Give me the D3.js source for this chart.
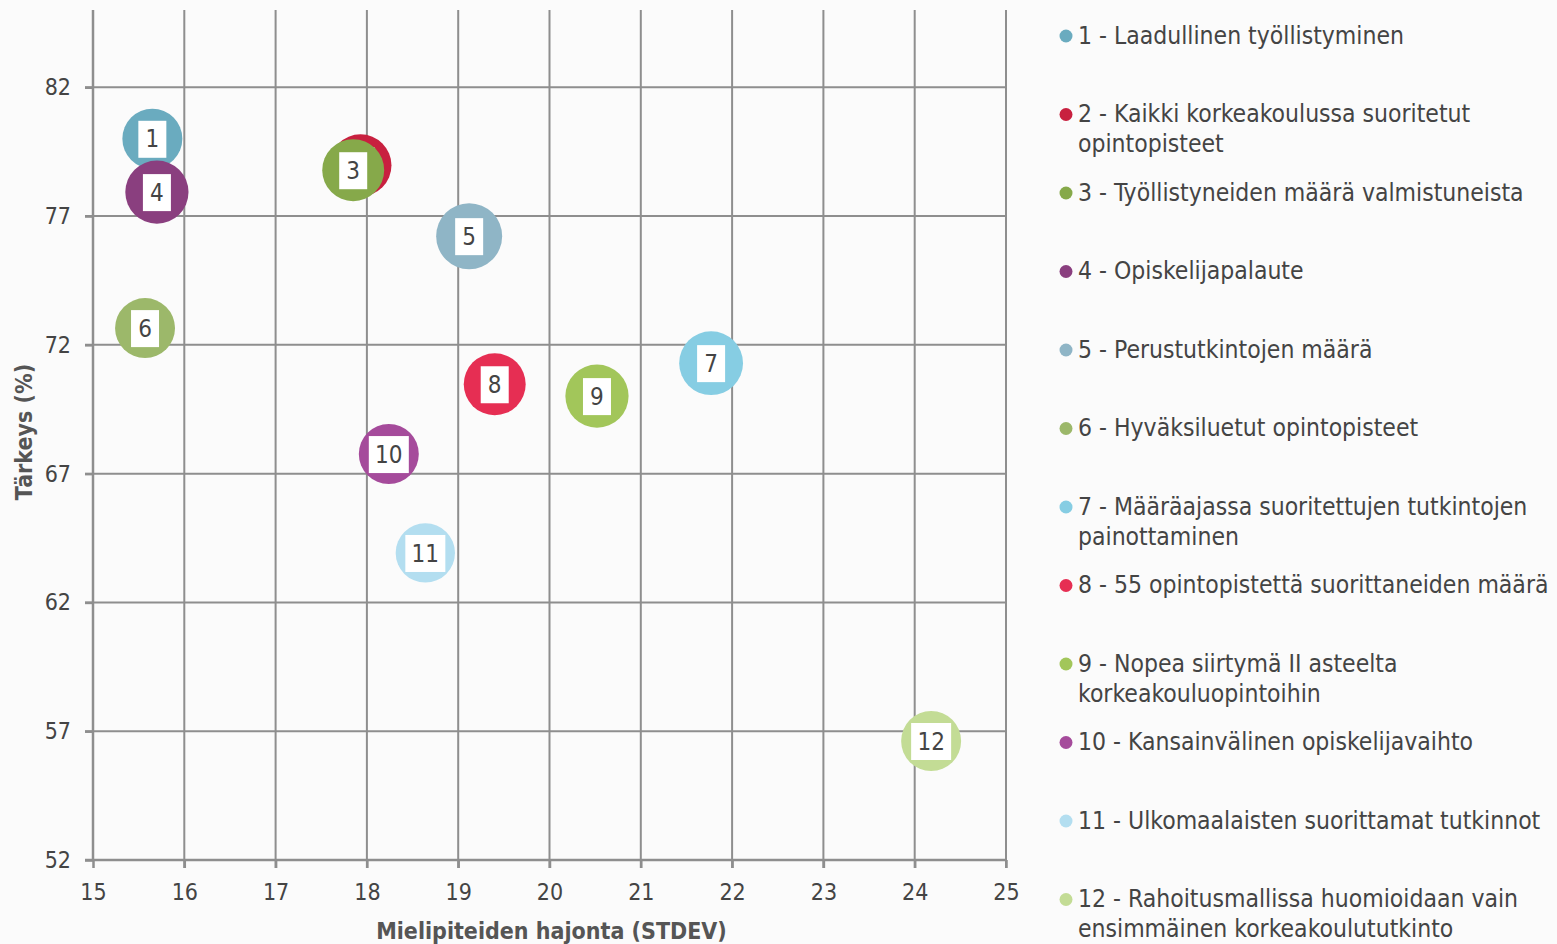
<!DOCTYPE html>
<html>
<head>
<meta charset="utf-8">
<script src="https://cdnjs.cloudflare.com/ajax/libs/d3/7.8.5/d3.min.js"></script>
<style>
    body { margin: 0; background: #fbfbfb; }
    text { font-family: "DejaVu Sans Condensed", "DejaVu Sans", sans-serif; }
</style>
</head>
<body>
<div id="chart"></div>
<script>
// data
var ids = [1, 2, 3, 4, 5, 6, 7, 8, 9, 10, 11, 12];
var names = [
    "Laadullinen työllistyminen",
    "Kaikki korkeakoulussa suoritetut opintopisteet",
    "Työllistyneiden määrä valmistuneista",
    "Opiskelijapalaute",
    "Perustutkintojen määrä",
    "Hyväksiluetut opintopisteet",
    "Määräajassa suoritettujen tutkintojen painottaminen",
    "55 opintopistettä suorittaneiden määrä",
    "Nopea siirtymä II asteelta korkeakouluopintoihin",
    "Kansainvälinen opiskelijavaihto",
    "Ulkomaalaisten suorittamat tutkinnot",
    "Rahoitusmallissa huomioidaan vain ensimmäinen korkeakoulututkinto"
];
// legend line breaks as in the original
var legendLines = [
    ["1 - Laadullinen työllistyminen"],
    ["2 - Kaikki korkeakoulussa suoritetut", "opintopisteet"],
    ["3 - Työllistyneiden määrä valmistuneista"],
    ["4 - Opiskelijapalaute"],
    ["5 - Perustutkintojen määrä"],
    ["6 - Hyväksiluetut opintopisteet"],
    ["7 - Määräajassa suoritettujen tutkintojen", "painottaminen"],
    ["8 - 55 opintopistettä suorittaneiden määrä"],
    ["9 - Nopea siirtymä II asteelta", "korkeakouluopintoihin"],
    ["10 - Kansainvälinen opiskelijavaihto"],
    ["11 - Ulkomaalaisten suorittamat tutkinnot"],
    ["12 - Rahoitusmallissa huomioidaan vain", "ensimmäinen korkeakoulututkinto"]
];
var stdev = [15.65, 17.93, 17.85, 15.70, 19.12, 15.57, 21.77, 19.40, 20.52, 18.24, 18.64, 24.18];
var importance = [80.0, 78.97, 78.78, 77.93, 76.22, 72.65, 71.29, 70.47, 70.01, 67.76, 63.92, 56.62];
var bubbleSize = [9.0, 9.6, 9.6, 10.0, 10.9, 9.0, 10.2, 9.6, 10.0, 9.0, 8.8, 9.0];
var colours = ["#6aabbf", "#c8203f", "#86a94a", "#8a3f7f", "#8fb5c6", "#9cb86a",
               "#86cde3", "#e62e53", "#a2c65a", "#a54b9b", "#b3def0", "#c3dc95"];
var xTicks = [15, 16, 17, 18, 19, 20, 21, 22, 23, 24, 25];
var yTicks = [52, 57, 62, 67, 72, 77, 82];

var width = 1557;
var height = 944;

var margin = {
    top: 10,
    bottom: 84,
    left: 93,
    right: 551,
};

var data = ids.map(function(id, i) {
    return {
        id: id,
        name: names[i],
        lines: legendLines[i],
        x: stdev[i],
        y: importance[i],
        size: bubbleSize[i],
        colour: colours[i]
    };
});

var svg = d3.select("#chart")
    .append("svg")
    .attr("width", width)
    .attr("height", height);

var plotW = width - margin.left - margin.right;
var plotH = height - margin.top - margin.bottom;

var g = svg.append("g")
    .attr("transform", "translate(" + margin.left + "," + margin.top + ")");

var xScale = d3.scaleLinear()
    .domain([15, 25])
    .range([0, plotW]);

var yScale = d3.scaleLinear()
    .domain([52, 85])
    .range([plotH, 0]);

var rScale = d3.scaleSqrt()
    .domain([0, d3.max(bubbleSize)])
    .range([0, 33]);

// grid
g.selectAll(".vgrid")
    .data(xTicks.slice(1))
    .enter()
    .append("line")
    .attr("class", "vgrid")
    .attr("x1", function(d) { return xScale(d); })
    .attr("x2", function(d) { return xScale(d); })
    .attr("y1", 0)
    .attr("y2", plotH + 8)
    .attr("stroke", "#8e8e8e")
    .attr("stroke-width", 2);

g.selectAll(".hgrid")
    .data(yTicks.slice(1))
    .enter()
    .append("line")
    .attr("class", "hgrid")
    .attr("x1", -8)
    .attr("x2", plotW)
    .attr("y1", function(d) { return yScale(d); })
    .attr("y2", function(d) { return yScale(d); })
    .attr("stroke", "#8e8e8e")
    .attr("stroke-width", 2);

// axes
var xAxis = d3.axisBottom(xScale)
    .tickValues(xTicks)
    .tickSize(8)
    .tickPadding(16);

var yAxis = d3.axisLeft(yScale)
    .tickValues(yTicks)
    .tickSize(8)
    .tickPadding(14);

g.append("g")
    .attr("class", "x axis")
    .attr("transform", "translate(0," + plotH + ")")
    .call(xAxis);

g.append("g")
    .attr("class", "y axis")
    .call(yAxis);

g.selectAll(".axis path, .axis line")
    .attr("stroke", "#8e8e8e")
    .attr("stroke-width", 2.5);

g.select(".y.axis path")
    .attr("d", "M0," + yScale(85) + "V" + plotH);

g.select(".x.axis path")
    .attr("d", "M-8,0H" + plotW);

g.selectAll(".axis text")
    .attr("font-size", "23px")
    .attr("fill", "#444");

g.append("text")
    .attr("x", plotW / 2 + 2)
    .attr("y", plotH + 79)
    .attr("text-anchor", "middle")
    .attr("font-size", "23px")
    .attr("font-weight", "bold")
    .attr("fill", "#555")
    .text("Mielipiteiden hajonta (STDEV)");

g.append("text")
    .attr("transform", "translate(-61," + (plotH / 2 - 3) + ") rotate(-90)")
    .attr("text-anchor", "middle")
    .attr("font-size", "23px")
    .attr("font-weight", "bold")
    .attr("fill", "#555")
    .text("Tärkeys (%)");

// bubbles, drawn in order so later ones cover earlier ones
var bubbles = g.selectAll(".bubble")
    .data(data)
    .enter()
    .append("g")
    .attr("class", "bubble")
    .attr("transform", function(d) {
        return "translate(" + xScale(d.x) + "," + yScale(d.y) + ")";
    });

bubbles.append("circle")
    .attr("r", function(d) { return rScale(d.size); })
    .attr("fill", function(d) { return d.colour; });

bubbles.append("rect")
    .attr("x", function(d) { return d.id > 9 ? -20 : -14; })
    .attr("y", -18)
    .attr("width", function(d) { return d.id > 9 ? 40 : 28; })
    .attr("height", 37)
    .attr("fill", "#fff");

// label 2 sits under bubble 3's box in the original
bubbles.filter(function(d) { return d.id !== 2; })
    .append("text")
    .attr("text-anchor", "middle")
    .attr("dy", "0.36em")
    .attr("font-size", "24px")
    .attr("fill", "#444")
    .text(function(d) { return d.id; });

// legend
var legend = svg.append("g")
    .attr("class", "legend")
    .attr("transform", "translate(1066,35)");

var items = legend.selectAll(".item")
    .data(data)
    .enter()
    .append("g")
    .attr("class", "item")
    .attr("transform", function(d, i) { return "translate(0," + (i * 78.5) + ")"; });

items.append("circle")
    .attr("r", 6.5)
    .attr("cy", 1)
    .attr("fill", function(d) { return d.colour; });

items.append("text")
    .attr("x", 12)
    .attr("font-size", "24.5px")
    .attr("fill", "#444")
    .selectAll("tspan")
    .data(function(d) { return d.lines; })
    .enter()
    .append("tspan")
    .attr("x", 12)
    .attr("y", function(d, i) { return i * 30; })
    .attr("dy", "0.36em")
    .text(function(d) { return d; });
</script>
</body>
</html>
